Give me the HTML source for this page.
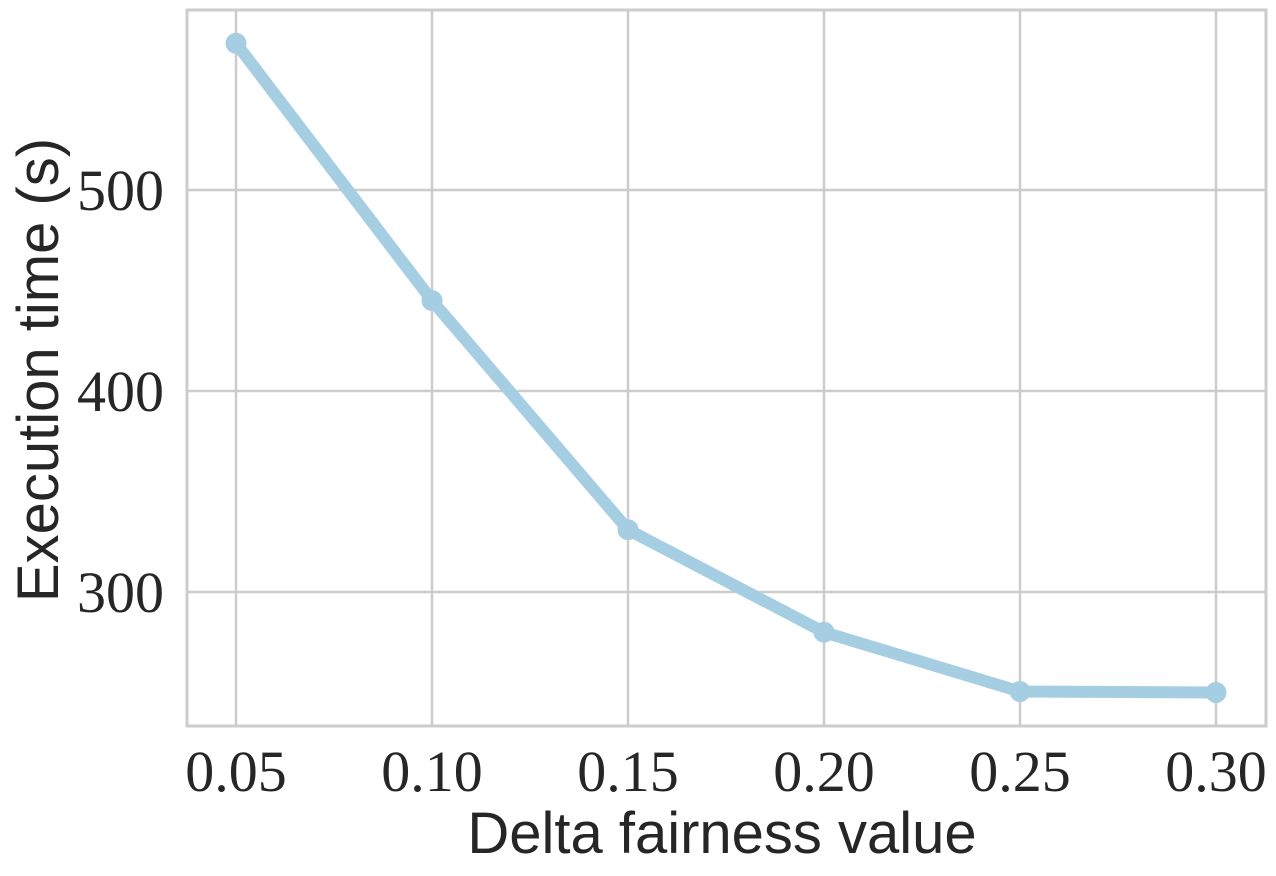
<!DOCTYPE html>
<html><head><meta charset="utf-8"><style>
html,body{margin:0;padding:0;background:#fff;}
svg{display:block;}
.tick{font-family:"Liberation Serif",serif;font-size:58px;fill:#262626;}
.lab{font-family:"Liberation Sans","DejaVu Sans",sans-serif;font-size:58px;fill:#262626;}
</style></head><body>
<svg id="chart" width="1276" height="876" xmlns="http://www.w3.org/2000/svg">
<g id="grid"></g><g id="ticks"></g><g id="series"></g>
<rect x="187" y="10" width="1079" height="716" fill="none" stroke="#cccccc" stroke-width="3"/>
<text class="lab" x="722" y="853" text-anchor="middle">Delta fairness value</text>
<text class="lab" transform="translate(58,370) rotate(-90)" text-anchor="middle">Execution time (s)</text>
</svg>
<script>
const xValues=[0.05,0.10,0.15,0.20,0.25,0.30];
const yValues=[573,445,331,280,250.5,250];
const xTicks=[0.05,0.10,0.15,0.20,0.25,0.30];
const xTickLabels=["0.05","0.10","0.15","0.20","0.25","0.30"];
const yTicks=[300,400,500];
const yTickLabels=["300","400","500"];
const NS="http://www.w3.org/2000/svg";
const L=187,R=1266,T=10,B=726;
function xs(v){return 236+(v-0.05)/0.25*(1216-236);}
function ys(v){return 592-(v-300)/200*(592-190);}
const grid=document.getElementById('grid'),ticks=document.getElementById('ticks'),ser=document.getElementById('series');
function mk(t,a,p){const e=document.createElementNS(NS,t);for(const k in a)e.setAttribute(k,a[k]);p.appendChild(e);return e;}
xTicks.forEach((v,i)=>{
 const l=mk('line',{x1:xs(v),x2:xs(v),y1:T,y2:B,stroke:'#cccccc','stroke-width':2.5},grid);
 
 
 const t=mk('text',{x:xs(v),y:791,'text-anchor':'middle',class:'tick'},ticks);t.textContent=xTickLabels[i];
 
 
});
yTicks.forEach((v,i)=>{
 const l=mk('line',{x1:L,x2:R,y1:ys(v),y2:ys(v),stroke:'#cccccc','stroke-width':2.5},grid);
 
 
 const t=mk('text',{x:164,y:ys(v)+20,'text-anchor':'end',class:'tick'},ticks);t.textContent=yTickLabels[i];
 
 
});
const pts=xValues.map((x,i)=>xs(x)+','+ys(yValues[i])).join(' ');
const pl=mk('polyline',{points:pts,fill:'none',stroke:'#a6cee3','stroke-width':12,'stroke-linejoin':'round'},ser);


xValues.forEach((x,i)=>{
 const c=mk('circle',{cx:xs(x),cy:ys(yValues[i]),r:10.5,fill:'#a6cee3'},ser);
 
 
});
</script>
</body></html>
